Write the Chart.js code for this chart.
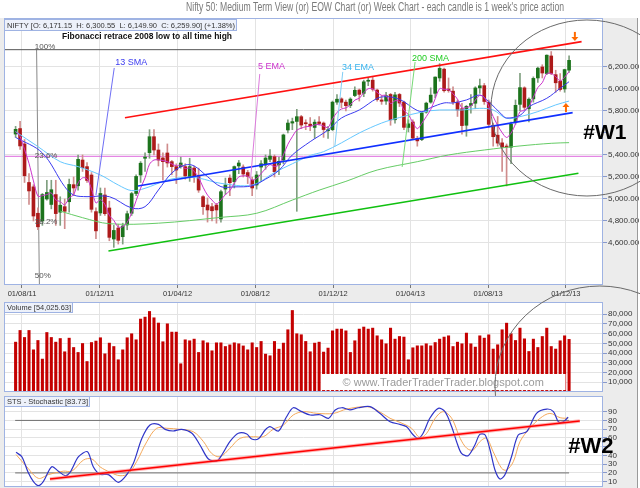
<!DOCTYPE html>
<html><head><meta charset="utf-8">
<script src="https://cdn.jsdelivr.net/npm/chart.js@4.4.1/dist/chart.umd.min.js"></script>
<style>
html,body{margin:0;padding:0;background:#fff;}
#wrap{position:relative;width:640px;height:488px;overflow:hidden;}
canvas{position:absolute;left:0;}
</style></head><body>
<div id="wrap">
<canvas id="cPrice" width="640" height="302" style="top:0px"></canvas>
<canvas id="cVol" width="640" height="94" style="top:302px"></canvas>
<canvas id="cSto" width="640" height="92" style="top:396px"></canvas>
</div>
<script>
// ---------------- DATA ----------------
const firstWeekEnding = '2011-07-22';   // candle 1 = week ending 22 Jul 2011, one candle per week
const monthTickDates  = ['2011-08-01','2011-12-01','2012-04-01','2012-08-01','2012-12-01','2013-04-01','2013-08-01','2013-12-01'];
const monthTickLabels = ['01/08/11','01/12/11','01/04/12','01/08/12','01/12/12','01/04/13','01/08/13','01/12/13'];

const opens = [5590,5640,5500,5150,5110,4870,4800,5000,4950,5040,
4880,4930,4975,5130,5120,5354,5294,5218,4885,4873,
5036,4918,4636,4736,4657,4764,4870,5050,5218,5370,
5421,5566,5445,5373,5418,5339,5294,5294,5294,5203,
5281,5203,5021,4945,4930,4945,4818,5090,5190,5157,
5300,5290,5240,5172,5127,5290,5309,5360,5384,5310,
5354,5627,5690,5705,5748,5690,5680,5650,5700,5690,
5620,5630,5880,5910,5880,5850,5940,5990,5960,6070,
6080,5990,5900,5890,5950,5720,5950,5880,5650,5700,
5550,5540,5790,5880,5960,6100,6180,6000,5980,5880,
5820,5670,5850,5870,6010,6030,5880,5670,5580,5510,
5480,5470,5700,5860,6010,5820,5910,6100,6200,6140,
6300,6130,6070,6000,6171];
const highs = [5660,5705,5540,5230,5130,4920,5050,5170,5170,5170,
5020,5000,5180,5200,5400,5400,5330,5240,4920,5100,
5100,4980,4760,4770,4780,4890,5060,5220,5340,5420,
5630,5630,5500,5420,5500,5350,5320,5380,5320,5370,
5300,5280,5030,5010,4960,4960,5080,5190,5220,5300,
5350,5310,5260,5200,5250,5350,5400,5450,5400,5380,
5590,5720,5735,5815,5760,5720,5740,5720,5750,5700,
5660,5890,5950,5920,5900,5920,6020,6000,6080,6100,
6110,6000,5940,5970,5960,5970,5960,5890,5720,5720,
5570,5790,5880,6010,6110,6230,6190,6100,6020,5900,
5870,5850,5950,6020,6090,6050,5900,5690,5750,5550,
5500,5700,5900,6142,6020,5920,6110,6200,6220,6310,
6340,6170,6140,6180,6301];
const lows = [5560,5450,5150,4950,4800,4720,4760,4990,4910,4760,
4760,4730,4880,5030,5080,5250,5150,4880,4640,4850,
4850,4620,4560,4590,4590,4720,4850,5030,5150,5250,
5370,5400,5300,5170,5290,5220,5140,5280,5180,5160,
5150,5060,4860,4790,4800,4780,4790,5040,5030,5100,
5230,5200,5140,5030,5090,5160,5270,5340,5200,5220,
5320,5600,5630,4888,5640,5630,5620,5550,5670,5560,
5550,5620,5860,5830,5800,5830,5930,5890,5930,6030,
5980,5890,5860,5860,5670,5690,5840,5630,5610,5540,
5480,5530,5780,5870,5920,6070,5970,5970,5860,5750,
5590,5570,5780,5820,5960,5860,5650,5480,5480,5250,
5118,5320,5680,5800,5810,5700,5880,6060,6100,6130,
6130,5970,5980,5970,6150];
const closes = [5633,5482,5211,5073,4845,4747,5040,5059,5084,4867,
4943,4888,5132,5100,5360,5284,5168,4906,4710,5050,
4866,4651,4714,4624,4754,4866,5049,5205,5325,5381,
5566,5445,5354,5339,5327,5294,5263,5327,5209,5294,
5203,5081,4930,4900,4893,4900,5066,5127,5148,5294,
5327,5227,5205,5100,5218,5320,5372,5390,5248,5342,
5582,5690,5703,5748,5672,5684,5665,5698,5686,5631,
5627,5880,5907,5879,5848,5908,5988,5951,6065,6074,
5998,5904,5888,5939,5719,5946,5872,5651,5683,5553,
5528,5783,5871,5944,6108,6187,5984,5986,5882,5809,
5667,5842,5868,6009,6029,5886,5678,5566,5508,5471,
5472,5680,5851,6012,5833,5907,6096,6189,6145,6307,
6141,6056,5995,6176,6260];
const volumes = [51200,63200,56000,63200,43300,52900,33800,61100,56000,51200,
54900,41300,55300,45700,40600,49800,31300,50800,52300,55700,
39200,50200,46700,33100,43300,55700,59800,53600,74900,76900,
82700,76200,70800,51600,70000,61500,61500,29000,53600,52600,
54300,40600,52600,50500,42300,50500,50500,46700,48400,50500,
49500,47300,43300,50500,45700,51900,38900,37200,51900,44000,
50200,63900,83700,59800,58800,51900,41300,50200,51200,
41000,45100,62800,64600,64600,62800,40600,52600,64600,66700,
64600,65600,57700,53600,49500,65600,54300,57000,56400,33100,
45400,47400,47400,49500,47400,50800,54300,56400,57700,46700,
51200,49500,60500,49500,46100,57700,55300,58700,44100,48500,
63900,70700,59800,52900,65600,54600,41600,54300,45700,57000,
65600,46700,44100,52600,57700,54026];
const ema5 = [5611,5568,5449,5324,5164,5025,5030,5040,5055,4992,
4976,4947,5009,5039,5146,5192,5184,5091,4964,4993,
4951,4851,4805,4745,4748,4787,4874,4984,5098,5192,
5316,5354,5356,5349,5339,5319,5301,5309,5276,5281,
5251,5196,5107,5035,4990,4953,4991,5040,5075,5143,
5201,5210,5208,5172,5186,5231,5276,5313,5295,5311,
5400,5497,5566,5626,5643,5657,5660,5673,5677,5662,
5650,5727,5787,5818,5828,5855,5899,5916,5966,6002,
6001,5969,5942,5941,5867,5893,5886,5808,5766,5695,
5639,5687,5748,5813,5911,6003,5997,5993,5956,5907,
5827,5832,5844,5899,5942,5923,5841,5749,5669,5603,
5559,5599,5683,5793,5806,5840,5925,6013,6057,6140,
6140,6112,6073,6107,6158];
const sma13Week  = [1,7,12,14,17,22,27,30,33,36,39,41,44,47,50,54,57,60,63,67,71,74,78,82,84,86,88,90,92,94,97,99,102,105,107,110,111,114,116,120,123,125];
const sma13Value = [5560,5418,5112,5036,5021,5021,4918,4930,5082,5236,5309,5300,5203,5112,5110,5120,5180,5260,5400,5521,5627,5736,5809,5915,5930,5920,5885,5827,5794,5830,5873,5873,5900,5945,5885,5764,5736,5760,5839,5915,6006,6066];
const ema34Week  = [1,6,11,15,20,24,27,30,35,39,42,47,54,59,63,67,70,74,78,83,87,92,96,101,105,108,111,114,118,122,125];
const ema34Value = [5612,5476,5339,5294,5218,5127,5076,5097,5172,5197,5190,5142,5127,5240,5320,5395,5430,5510,5600,5690,5740,5790,5809,5809,5824,5809,5733,5748,5794,5855,5890];
const sma200Week  = [11,16,22,33,47,55,63,69,75,82,91,98,106,114,121,125];
const sma200Value = [4890,4830,4775,4780,4833,4870,4990,5080,5160,5263,5339,5400,5445,5482,5506,5512];

const stochKWeek  = [1.1,2.4,3.8,5.0,6.1,7.2,9.1,10.6,12.1,13.2,15.1,17.1,18.4,19.9,21.8,24.0,25.9,27.4,29.3,31.1,33.0,34.5,36.3,38.2,40.5,42.3,44.2,46.1,47.2,49.0,50.9,52.8,53.9,55.4,56.9,58.0,59.9,61.7,63.2,65.1,67.0,69.2,71.1,72.6,74.1,75.9,77.8,80.4,82.6,84.9,87.1,88.6,90.1,91.2,92.3,93.8,95.7,97.2,98.7,99.8,100.9,102.4,103.9,105.0,106.2,107.3,108.4,109.5,110.6,112.1,113.6,115.5,117.7,120.0,121.5,122.6,123.7,124.8];
const stochKValue = [43.5,38.5,20.7,10,5.4,10,27,22,16.8,20.7,38.5,44.2,27,18.4,18,9.3,18,31,59.5,74.7,75.5,69.8,67.9,69.8,65.3,51.9,35.9,33.6,40.5,55.7,65.3,64.5,58.7,59,69,72.8,67.9,84.2,94.5,90,86.2,86.5,82.4,91.9,94.5,92,94.5,95.7,88.1,78.5,75.5,72.8,63.3,59.5,65.3,82.4,93.8,90,72.8,55.7,42.4,39.7,51.9,64.1,63.3,46.2,23.3,13,17.6,38.5,63.3,67.1,88.1,93,90,78.5,78.5,83.7];
const stochDWeek  = [1.1,3.5,6.1,8.3,11.7,13.6,16.2,18.1,19.9,22.2,24.4,26.3,28.1,30.4,32.6,34.9,37.8,40.8,43.1,44.9,46.8,49.0,51.3,54.3,56.5,58.7,61.0,63.2,65.5,68.5,72.2,75.2,79.7,81.9,84.9,87.1,89.7,91.6,93.1,95.0,96.8,98.7,100.6,102.1,103.5,105.0,106.5,108.0,109.9,111.0,112.5,114.0,116.2,118.5,120.7,123.0,124.8];
const stochDValue = [41,27,13.8,18,22,22,34.7,35.9,27,20.7,16.8,19.4,32.8,55.7,71,71,69.8,67.1,55.7,42.4,38.5,48.1,59.5,61.4,61.4,69.8,74.7,86.2,90,88.1,88,93,95.7,91.9,82.4,77.8,71,60.2,65.3,82.4,90,82.4,59.5,48.1,46.2,55.7,59.5,44.2,25.2,23.3,32.8,55.7,71,82.4,88,83.1,82.4];
const stochBands = [20, 80];

// axis tick values
const priceTicks = [4600,4800,5000,5200,5400,5600,5800,6000,6200];
const volumeTicks = [10000,20000,30000,40000,50000,60000,70000,80000];
const stochTicks = [10,20,30,40,50,60,70,80,90];

// Fibonacci retracement (2008 low to all time high)
const fibValue = [6357, 5388, 4789, 4304];
const fibLabel = ['100%', '23.6%', '38.2%', '50%'];
const fibLineWeek = [5.7, 6.35], fibLineValue = [6357, 4150];

// hand-drawn trend lines (week position, value)
const redChannelWeek = [25.5, 127.8],   redChannelValue = [5739, 6430];
const blueTrendWeek  = [28.4, 125.8],   blueTrendValue  = [5118, 5785];
const greenTrendWeek = [21.8, 127.1],   greenTrendValue = [4527, 5234];
const stochTrendWeek = [8.7, 127.4],    stochTrendValue = [13, 79.3];

// label annotations
const maLabelText  = ['13 SMA', '5 EMA', '34 EMA', '200 SMA'];
const maLabelWeek  = [23.3, 55.3, 74.1, 89.8];
const maLabelValue = [6236, 6200, 6191, 6273];
const maPointerWeek  = [[23.1, 19.0], [55.7, 53.5], [74.3, 72.5], [90.5, 87.6]];
const maPointerValue = [[6191, 5036], [6136, 5118], [6155, 5473], [6245, 5291]];

const headerText = 'NIFTY [O: 6,171.15  H: 6,300.55  L: 6,149.90  C: 6,259.90] (+1.38%)';
const volHeader = 'Volume [54,025.63]';
const stoHeader = 'STS - Stochastic [83.73]';
const titleText = "Nifty 50: Medium Term View (or) EOW Chart (or) Week Chart - each candle is 1 week's price action";

// ---------------- HELPERS ----------------
const FONT = "'Liberation Sans', Arial, sans-serif";
Chart.defaults.font.family = FONT;
Chart.defaults.font.size = 8;
Chart.defaults.color = '#333';

const X_MIN = -1.6, X_MAX = 132.6;
const weekPos = d => 1 + (Date.parse(d) - Date.parse(firstWeekEnding)) / (7 * 86400000);
const monthTickPos = monthTickDates.map(weekPos);
const candleX = closes.map((_, i) => i + 1);
const isUp = closes.map((c, i) => c >= opens[i]);
const pts = (xs, ys) => xs.map((x, i) => ({x, y: ys[i]}));
const hline = v => [{x: X_MIN, y: v}, {x: X_MAX, y: v}];

function xScale(showLabels) {
  return {
    type: 'linear', min: X_MIN, max: X_MAX, position: 'bottom', offset: false,
    afterBuildTicks: s => { s.ticks = monthTickPos.map(v => ({value: v})); },
    afterFit: s => { s.height = showLabels ? 17 : 0; s.paddingLeft = 0; s.paddingRight = 0; s.paddingTop = 0; s.paddingBottom = 0; },
    ticks: { display: showLabels, autoSkip: false, maxRotation: 0, minRotation: 0, padding: 1,
             color: '#333', font: {size: 7.5}, callback: (v, i) => monthTickLabels[i] },
    grid: { offset: false, color: '#e3e3e3', drawTicks: showLabels, tickLength: 3, tickColor: '#777' },
    border: { display: false }
  };
}
function yScale(min, max, tickValues, fmt) {
  return {
    type: 'linear', position: 'right', min, max, beginAtZero: false,
    afterBuildTicks: s => { s.ticks = tickValues.map(v => ({value: v})); },
    afterFit: s => { s.width = 37; s.paddingTop = 0; s.paddingBottom = 0; s.paddingLeft = 0; s.paddingRight = 0; },
    ticks: { autoSkip: false, color: '#333', font: {size: 8}, padding: 1, callback: fmt },
    grid: { color: '#e3e3e3', tickLength: 4, tickColor: '#8899cc' },
    border: { display: false }
  };
}
const line = (label, data, color, width, order, tension, extra) =>
  Object.assign({type: 'line', label, data, borderColor: color, borderWidth: width, pointRadius: 0,
                 tension: tension || 0, fill: false, order}, extra || {});

function framePlugin(whiteTop) {
  return {
    id: 'frame' + whiteTop,
    beforeDraw(chart) {
      const {ctx, width, height, chartArea: a} = chart;
      ctx.save();
      ctx.fillStyle = '#ffffff'; ctx.fillRect(0, 0, width, height);
      ctx.fillStyle = '#ececec'; ctx.fillRect(0, whiteTop, 637, height - whiteTop);
      ctx.fillStyle = '#ffffff'; ctx.fillRect(a.left, a.top, a.right - a.left, a.bottom - a.top);
      ctx.restore();
    },
    afterDraw(chart) {
      const {ctx, height, chartArea: a} = chart;
      ctx.save();
      ctx.strokeStyle = '#9fb3e3'; ctx.lineWidth = 1;
      ctx.strokeRect(Math.round(a.left) + 0.5, Math.round(a.top) + 0.5,
                     Math.round(a.right - a.left) - 1, Math.round(a.bottom - a.top) - 1);
      ctx.strokeStyle = '#9a9a9a';
      ctx.beginPath(); ctx.moveTo(637.5, whiteTop); ctx.lineTo(637.5, height); ctx.stroke();
      ctx.restore();
    }
  };
}
function labelBox(ctx, x, y, w, h, s) {
  ctx.save();
  ctx.fillStyle = '#edf1fa'; ctx.fillRect(x, y, w, h);
  ctx.strokeStyle = '#9fb3e3'; ctx.lineWidth = 1; ctx.strokeRect(x + 0.5, y + 0.5, w - 1, h - 1);
  ctx.fillStyle = '#333'; ctx.font = '8px ' + FONT; ctx.textBaseline = 'middle'; ctx.textAlign = 'left';
  ctx.fillText(s, x + 3, y + h / 2 + 0.5, w - 5);
  ctx.restore();
}
function text(ctx, s, x, y, font, color, align, maxW) {
  ctx.save();
  ctx.font = font; ctx.fillStyle = color; ctx.textAlign = align || 'left'; ctx.textBaseline = 'middle';
  if (maxW) ctx.fillText(s, x, y, maxW); else ctx.fillText(s, x, y);
  ctx.restore();
}
function arrow(ctx, x, y, down) {
  const d = down ? 1 : -1;
  ctx.save(); ctx.fillStyle = '#ff6a00';
  ctx.fillRect(x - 1, y - 5 * d, 2, 5 * d);
  ctx.beginPath(); ctx.moveTo(x - 3.5, y); ctx.lineTo(x + 3.5, y); ctx.lineTo(x, y + 4 * d); ctx.closePath(); ctx.fill();
  ctx.restore();
}

// circles (annotations) in data units
const upperCircle = {week: 129.0, value: 5827, rWeeks: 21.5, rValue: 800};
const lowerCircle = {week: 131.9, value: 119.3, rWeeks: 23.5, rValue: 114.3}; // in stochastic units
let stoChart = null;
function drawLowerCircle(chart, canvasTop) {
  if (!stoChart) return;
  const sx = stoChart.scales.x, sy = stoChart.scales.y;
  const stoTop = stoChart.canvas.offsetTop;
  const cx = sx.getPixelForValue(lowerCircle.week);
  const rx = sx.getPixelForValue(lowerCircle.week + lowerCircle.rWeeks) - cx;
  const cy = stoTop + sy.getPixelForValue(lowerCircle.value);
  const ry = stoTop + sy.getPixelForValue(lowerCircle.value - lowerCircle.rValue) - cy;
  const ctx = chart.ctx;
  ctx.save(); ctx.strokeStyle = '#6a6a6a'; ctx.lineWidth = 1;
  ctx.beginPath(); ctx.ellipse(cx, cy - canvasTop, rx, ry, 0, 0, Math.PI * 2); ctx.stroke();
  ctx.restore();
}

// ---------------- PRICE CHART ----------------
const pricePlugin = {
  id: 'priceAnno',
  afterDraw(chart) {
    const {ctx, scales: {x, y}, chartArea: a} = chart;
    const P = (k, v) => [x.getPixelForValue(k), y.getPixelForValue(v)];
    text(ctx, titleText, 375, 8, '12px ' + FONT, '#7a7a7a', 'center', 378);
    fibValue.forEach((v, i) => {
      const [px, py] = P(5.3, v);
      text(ctx, fibLabel[i], px, py - (i === 0 ? 3 : 0), '8px ' + FONT, '#555', 'left');
    });
    let [fx, fy] = P(11.4, 6473);
    text(ctx, 'Fibonacci retrace 2008 low to all time high', fx, fy, 'bold 9px ' + FONT, '#111', 'left', 170);
    const maColors = ['#3c3cf0', '#cc33cc', '#39b5f0', '#22cc22'];
    maLabelText.forEach((s, i) => {
      const [lx, ly] = P(maLabelWeek[i], maLabelValue[i]);
      text(ctx, s, lx, ly, '9px ' + FONT, maColors[i], 'left');
    });
    let [ax, ay] = P(126.3, 6473); arrow(ctx, ax, ay, true);
    [ax, ay] = P(124.3, 5836); arrow(ctx, ax, ay, false);
    let [wx, wy] = P(128.2, 5600);
    text(ctx, '#W1', wx, wy, 'bold 21px ' + FONT, '#000', 'left');
    labelBox(ctx, a.left, a.top + 1, 233, 12, headerText);
    const [cx, cy] = P(upperCircle.week, upperCircle.value);
    const rx = x.getPixelForValue(upperCircle.week + upperCircle.rWeeks) - cx;
    const ry = y.getPixelForValue(upperCircle.value - upperCircle.rValue) - cy;
    ctx.save(); ctx.strokeStyle = '#6a6a6a'; ctx.lineWidth = 1;
    ctx.beginPath(); ctx.ellipse(cx, cy, rx, ry, 0, 0, Math.PI * 2); ctx.stroke(); ctx.restore();
    drawLowerCircle(chart, 0);
  }
};

const maPointerColors = ['#6f6ff5', '#dc7adc', '#7fcdf5', '#77d977'];
const priceDatasets = [
  line('fib100', hline(fibValue[0]), '#555555', 1, 40),
  line('fib236', hline(fibValue[1]), '#dd66dd', 1, 40),
  line('fibLeg', pts(fibLineWeek, fibLineValue), '#888888', 1, 40),
  {type: 'bar', label: 'wick', data: candleX.map((k, i) => ({x: k, y: [lows[i], highs[i]]})),
   barThickness: 1, grouped: false, order: 30,
   backgroundColor: isUp.map(u => u ? '#7f9f7f' : '#cf8c8c')},
  {type: 'bar', label: 'body', data: candleX.map((k, i) => ({x: k, y: [opens[i], closes[i]]})),
   barThickness: 3, grouped: false, minBarLength: 1, order: 29,
   backgroundColor: isUp.map(u => u ? '#1c731c' : '#ad1a1a')},
  line('200 SMA', pts(sma200Week, sma200Value), '#66cc66', 1, 20, 0.35),
  line('34 EMA', pts(ema34Week, ema34Value), '#66c8ff', 1, 19, 0.35),
  line('13 SMA', pts(sma13Week, sma13Value), '#3c3cf0', 1, 18, 0.35),
  line('5 EMA', pts(candleX, ema5), '#cc33cc', 1, 17, 0.3),
  line('redChannel', pts(redChannelWeek, redChannelValue), '#ff1010', 1.6, 5),
  line('blueTrend', pts(blueTrendWeek, blueTrendValue), '#1030ff', 1.6, 5),
  line('greenTrend', pts(greenTrendWeek, greenTrendValue), '#10c010', 1.6, 5),
].concat(maPointerWeek.map((w, i) => line('ptr' + i, pts(w, maPointerValue[i]), maPointerColors[i], 1, 4)));

const priceChart = new Chart(document.getElementById('cPrice'), {
  type: 'bar',
  data: {datasets: priceDatasets},
  options: {
    responsive: false, animation: false, events: [],
    layout: {padding: {left: 4, top: 18, right: 0, bottom: 0}},
    plugins: {legend: {display: false}, tooltip: {enabled: false}},
    scales: {
      x: xScale(true),
      y: yScale(4218, 6645, priceTicks,
        v => v === 5600 ? '' : v.toLocaleString('en-US', {minimumFractionDigits: 2, maximumFractionDigits: 2}))
    }
  },
  plugins: [framePlugin(18), pricePlugin]
});

// ---------------- VOLUME CHART ----------------
const volPlugin = {
  id: 'volAnno',
  afterDraw(chart) {
    const {ctx, scales: {x, y}, chartArea: a} = chart;
    const x0 = x.getPixelForValue(69.4), x1 = x.getPixelForValue(124.2);
    const y0 = y.getPixelForValue(18500), y1 = y.getPixelForValue(2000);
    ctx.save(); ctx.fillStyle = '#ffffff'; ctx.fillRect(x0, y0, x1 - x0, y1 - y0); ctx.restore();
    text(ctx, '\u00a9 www.TraderTraderTrader.blogspot.com', (x0 + x1) / 2, (y0 + y1) / 2 + 0.5,
         '11px ' + FONT, '#9a9a9a', 'center', 206);
    labelBox(ctx, a.left, a.top, 69, 11, volHeader);
    drawLowerCircle(chart, chart.canvas.offsetTop);
  }
};
const volChart = new Chart(document.getElementById('cVol'), {
  type: 'bar',
  data: {datasets: [{type: 'bar', label: 'Volume', data: pts(candleX, volumes), barThickness: 2.4,
                     grouped: false, backgroundColor: '#c40000'}]},
  options: {
    responsive: false, animation: false, events: [],
    layout: {padding: {left: 4, top: 0, right: 0, bottom: 4}},
    plugins: {legend: {display: false}, tooltip: {enabled: false}},
    scales: {
      x: xScale(false),
      y: yScale(0, 92400, volumeTicks, v => v.toLocaleString('en-US'))
    }
  },
  plugins: [framePlugin(0), volPlugin]
});

// ---------------- STOCHASTIC CHART ----------------
const stoPlugin = {
  id: 'stoAnno',
  afterDraw(chart) {
    const {ctx, scales: {x, y}, chartArea: a} = chart;
    labelBox(ctx, a.left, a.top, 86, 11, stoHeader);
    text(ctx, '#W2', x.getPixelForValue(124.8), y.getPixelForValue(49.6), 'bold 22px ' + FONT, '#000', 'left');
    drawLowerCircle(chart, chart.canvas.offsetTop);
  }
};
stoChart = new Chart(document.getElementById('cSto'), {
  type: 'line',
  data: {datasets: [
    line('band20', [{x: 0.9, y: stochBands[0]}, {x: 125, y: stochBands[0]}], '#6f6f6f', 1, 10),
    line('band80', [{x: 0.9, y: stochBands[1]}, {x: 125, y: stochBands[1]}], '#6f6f6f', 1, 10),
    line('%D', pts(stochDWeek, stochDValue), '#f5a95a', 1, 6, 0.35),
    line('%K', pts(stochKWeek, stochKValue), '#2f35c8', 1.2, 5, 0.3),
    line('trendHalo', pts(stochTrendWeek, stochTrendValue), 'rgba(255,120,120,0.55)', 3.5, 2),
    line('trend', pts(stochTrendWeek, stochTrendValue), '#ff0000', 1.4, 1),
  ]},
  options: {
    responsive: false, animation: false, events: [],
    layout: {padding: {left: 4, top: 0, right: 0, bottom: 1}},
    plugins: {legend: {display: false}, tooltip: {enabled: false}},
    scales: {
      x: xScale(false),
      y: yScale(3.9, 107.9, stochTicks, v => v === 50 ? '' : String(v))
    }
  },
  plugins: [framePlugin(0), stoPlugin]
});

priceChart.draw();
volChart.draw();
</script>
</body></html>
